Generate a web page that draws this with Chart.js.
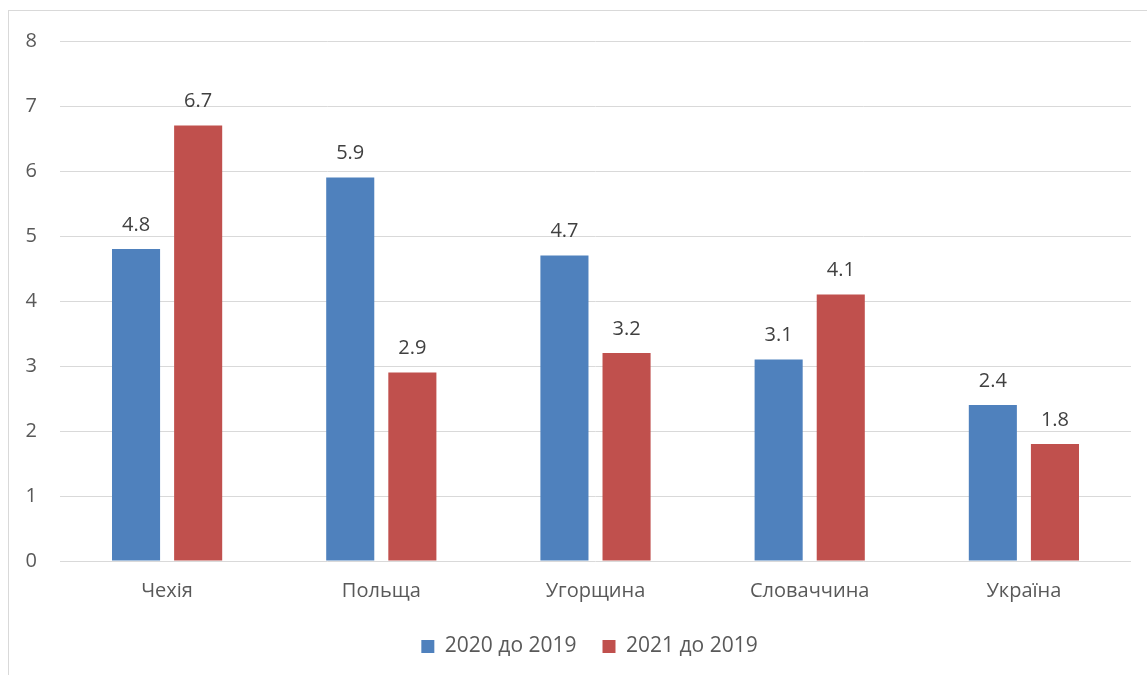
<!DOCTYPE html>
<html>
<head>
<meta charset="utf-8">
<script src="https://cdn.jsdelivr.net/npm/chart.js@4/dist/chart.umd.min.js"></script>
<style>
  html, body { margin: 0; padding: 0; background: #ffffff; }
  #wrap { position: relative; width: 1147px; height: 675px; overflow: hidden; }
  #frame { position: absolute; left: 8px; top: 10px; width: 1200px; height: 700px;
           border: 1px solid #d9d9d9; box-sizing: border-box; }
  canvas { position: absolute; left: 0; top: 0; }
</style>
</head>
<body>
<div id="wrap">
  <div id="frame"></div>
  <canvas id="chart" width="1147" height="675"></canvas>
</div>
<script>
// Countries on the category axis
const categories = ['Чехія', 'Польща', 'Угорщина', 'Словаччина', 'Україна'];
// Series values
const values2020 = [4.8, 5.9, 4.7, 3.1, 2.4];
const values2021 = [6.7, 2.9, 3.2, 4.1, 1.8];
// Series names
const seriesNames = ['2020 до 2019', '2021 до 2019'];
// Value axis ticks
const yTicks = [0, 1, 2, 3, 4, 5, 6, 7, 8];

const FONT = '"Open Sans", "DejaVu Sans", sans-serif';

// Writes each bar's value above it
const valueLabels = {
  id: 'valueLabels',
  afterDatasetsDraw(chart) {
    const ctx = chart.ctx;
    ctx.save();
    ctx.font = '20px ' + FONT;
    ctx.fillStyle = '#404040';
    ctx.textAlign = 'center';
    ctx.textBaseline = 'bottom';
    chart.data.datasets.forEach((ds, i) => {
      const meta = chart.getDatasetMeta(i);
      meta.data.forEach((bar, j) => {
        ctx.fillText(ds.data[j].toFixed(1), bar.x, bar.y - 14);
      });
    });
    ctx.restore();
  }
};

// Centres the legend under the plot area rather than the whole canvas
const legendUnderPlot = {
  id: 'legendUnderPlot',
  afterLayout(chart) {
    const lg = chart.legend;
    if (lg) { lg.left += 24; lg.right += 24; }
  }
};

new Chart(document.getElementById('chart'), {
  type: 'bar',
  data: {
    labels: categories,
    datasets: [
      { label: seriesNames[0], data: values2020, backgroundColor: '#4f81bd' },
      { label: seriesNames[1], data: values2021, backgroundColor: '#c0504d' }
    ]
  },
  options: {
    responsive: false,
    animation: false,
    devicePixelRatio: 1,
    categoryPercentage: 0.58,
    barPercentage: 0.774,
    layout: { padding: { left: 0, right: 16, top: 41, bottom: 8 } },
    scales: {
      x: {
        afterFit(scale) { scale.height = 49; },
        grid: { display: false, drawTicks: false },
        border: { display: false },
        ticks: { color: '#595959', font: { family: FONT, size: 20 }, padding: 18 }
      },
      y: {
        min: 0,
        max: 8,
        afterBuildTicks(scale) { scale.ticks = yTicks.map(v => ({ value: v })); },
        afterFit(scale) { scale.width = 60; },
        grid: { color: '#d9d9d9', lineWidth: 1, drawTicks: false },
        border: { display: false },
        ticks: { color: '#595959', font: { family: FONT, size: 20 }, padding: 23 }
      }
    },
    plugins: {
      legend: {
        position: 'bottom',
        labels: {
          color: '#595959',
          font: { family: FONT, size: 21 },
          boxWidth: 13,
          boxHeight: 13,
          padding: 26
        }
      },
      tooltip: { enabled: false }
    }
  },
  plugins: [valueLabels, legendUnderPlot]
});
</script>
</body>
</html>
